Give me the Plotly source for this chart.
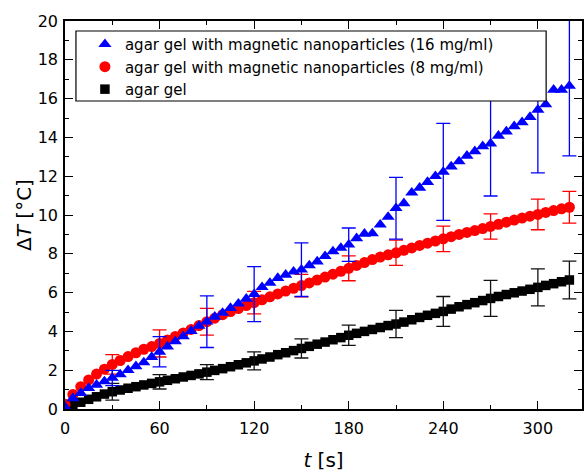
import plotly.graph_objects as go

# time grid (s)
t = list(range(0, 325, 5))

T_16 = [0.10, 0.55, 0.82, 1.07, 1.25, 1.42, 1.60, 1.78, 2.00, 2.20, 2.40, 2.68, 2.95,
        3.22, 3.48, 3.74, 4.02, 4.28, 4.50, 4.75, 4.95, 5.20, 5.43, 5.68, 5.92,
        6.28, 6.50, 6.75, 6.92, 7.08, 7.18, 7.40, 7.60, 7.88, 8.12, 8.30, 8.47,
        8.80, 9.03, 9.05, 9.50, 9.90, 10.35, 10.60, 11.15, 11.40, 11.70, 12.00, 12.22,
        12.50, 12.76, 13.05, 13.28, 13.54, 13.68, 14.08, 14.30, 14.57, 14.78, 15.05, 15.42,
        15.70, 16.45, 16.45, 16.65]

T_8 = [0.25, 0.75, 1.15, 1.50, 1.80, 2.05, 2.30, 2.50, 2.70, 2.90, 3.08, 3.22, 3.38,
       3.56, 3.74, 3.92, 4.10, 4.30, 4.50, 4.68, 4.86, 5.02, 5.18, 5.33, 5.48,
       5.63, 5.78, 5.93, 6.08, 6.22, 6.36, 6.50, 6.65, 6.80, 6.95, 7.10, 7.25,
       7.40, 7.55, 7.70, 7.83, 7.95, 8.05, 8.18, 8.30, 8.43, 8.55, 8.66, 8.77,
       8.88, 9.00, 9.10, 9.20, 9.30, 9.41, 9.52, 9.63, 9.74, 9.84, 9.94, 10.03,
       10.13, 10.23, 10.32, 10.40]

T_0 = [0.05, 0.20, 0.35, 0.50, 0.63, 0.77, 0.89, 0.98, 1.07, 1.15, 1.24, 1.32, 1.40,
       1.48, 1.56, 1.65, 1.73, 1.81, 1.90, 1.99, 2.08, 2.18, 2.28, 2.38, 2.48,
       2.58, 2.68, 2.80, 2.90, 3.01, 3.12, 3.23, 3.34, 3.45, 3.57, 3.68, 3.80,
       3.90, 4.00, 4.10, 4.20, 4.30, 4.38, 4.48, 4.60, 4.72, 4.83, 4.93, 5.03,
       5.15, 5.27, 5.38, 5.48, 5.59, 5.70, 5.80, 5.90, 5.99, 6.08, 6.17, 6.27,
       6.37, 6.46, 6.56, 6.65]

# error bars
err_t = [30, 60, 90, 120, 150, 180, 210, 240, 270, 300, 320]
err_16 = [0.39, 0.78, 1.33, 1.42, 1.38, 0.86, 1.59, 2.50, 2.70, 3.25, 3.60]
err_8 = [0.50, 0.70, 0.69, 0.58, 0.58, 0.64, 0.65, 0.66, 0.65, 0.79, 0.82]
err_0 = [0.43, 0.37, 0.39, 0.46, 0.49, 0.52, 0.70, 0.77, 0.93, 0.95, 0.97]

names = ["agar gel",
         "agar gel with magnetic nanoparticles (8 mg/ml)",
         "agar gel with magnetic nanoparticles (16 mg/ml)"]

series = [(T_0, err_0, "black", "square", 9.5, "#111111"),
          (T_8, err_8, "red", "circle", 11, "red"),
          (T_16, err_16, "blue", "triangle-up", 11.5, "blue")]

fig = go.Figure()
for name, (vals, errs, col, sym, sz, ecol) in zip(names, series):
    fig.add_trace(go.Scatter(x=t, y=vals, mode="markers", name=name,
                             marker=dict(symbol=sym, size=sz, color=col, line=dict(width=0))))
    ey = [vals[t.index(tt)] for tt in err_t]
    fig.add_trace(go.Scatter(x=err_t, y=ey, mode="markers", showlegend=False,
                             marker=dict(size=1, color="rgba(0,0,0,0)"),
                             error_y=dict(type="data", array=errs, visible=True,
                                          color=ecol, thickness=1.3, width=7)))

# legend frame
fig.add_shape(type="rect", xref="paper", yref="paper",
              x0=(76 - 65) / 519, x1=(548 - 65) / 519,
              y0=(409 - 101) / 388, y1=(409 - 31) / 388,
              fillcolor="white", line=dict(color="black", width=1.2), layer="above")

axis_common = dict(showline=True, linecolor="black", linewidth=1.6, mirror="ticks",
                   ticks="inside", ticklen=8, tickwidth=1.3, tickcolor="black",
                   showgrid=False, zeroline=False,
                   tickfont=dict(family="DejaVu Sans", size=16, color="black"))

fig.update_xaxes(range=[0, 328], tick0=0, dtick=60, ticklabelstandoff=4,
                 minor=dict(ticks="inside", ticklen=4, tickwidth=1.3, tickcolor="black", dtick=30),
                 title=dict(text="<i>t</i> [s]", font=dict(family="DejaVu Sans", size=20, color="black"),
                            standoff=18),
                 **axis_common)
fig.update_yaxes(range=[0, 20], tick0=0, dtick=2, ticklabelstandoff=2,
                 minor=dict(ticks="inside", ticklen=4, tickwidth=1.3, tickcolor="black", dtick=1),
                 title=dict(text="Δ<i>T</i> [°C]", font=dict(family="DejaVu Sans", size=20, color="black"),
                            standoff=1),
                 **axis_common)

fig.update_layout(
    width=586, height=472,
    margin=dict(l=65, r=2, t=21, b=63),
    paper_bgcolor="white", plot_bgcolor="white",
    showlegend=True,
    legend=dict(x=(85 - 65) / 519, y=(409 - 31) / 388 + 0.008, xanchor="left", yanchor="top",
                bgcolor="rgba(0,0,0,0)", borderwidth=0, traceorder="reversed",
                font=dict(family="DejaVu Sans", size=15, color="black")),
)

fig.write_html("out.html")
